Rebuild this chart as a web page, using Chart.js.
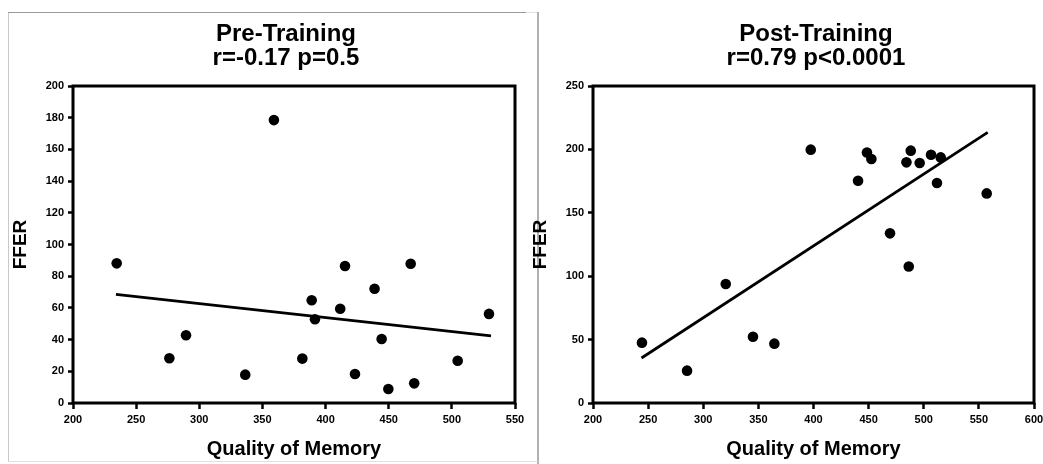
<!DOCTYPE html>
<html>
<head>
<meta charset="utf-8">
<script src="https://cdn.jsdelivr.net/npm/chart.js@4.4.1/dist/chart.umd.min.js"></script>
<style>
  html, body { margin: 0; padding: 0; background: #fff; width: 1043px; height: 464px; overflow: hidden; position: relative; }
  canvas { position: absolute; top: 0; }
  .ln { position: absolute; }
</style>
</head>
<body>
<div class="ln" style="left:8px;top:12px;width:1px;height:450px;background:#c8c8c8"></div>
<div class="ln" style="left:8px;top:12px;width:518px;height:1px;background:#9a9a9a"></div>
<div class="ln" style="left:526px;top:12px;width:12px;height:1px;background:#e0e0e0"></div>
<div class="ln" style="left:537px;top:12px;width:2px;height:452px;background:#b0b0b0"></div>
<div class="ln" style="left:8px;top:461px;width:530px;height:1px;background:#e0e0e0"></div>
<canvas id="c1" width="572" height="464" style="left:0px"></canvas>
<canvas id="c2" width="592" height="464" style="left:520px"></canvas>
<script>
// ---- data ----
const preX  = [234.6, 276.3, 289.5, 336.4, 359.1, 381.6, 389.0, 391.6, 411.6, 415.4, 423.3, 438.8, 444.4, 449.7, 467.4, 470.2, 504.6, 529.4];
const preY  = [88.1, 28.2, 42.7, 17.9, 178.5, 28.0, 64.8, 52.8, 59.5, 86.4, 18.3, 72.1, 40.4, 8.8, 87.9, 12.4, 26.7, 56.2];
const preFitX = [234, 531];
const preFitY = [68.6, 42.3];

const postX = [244.4, 285.3, 320.4, 345.1, 364.5, 397.5, 440.4, 448.5, 452.5, 469.4, 484.3, 486.4, 488.2, 496.3, 506.6, 512.0, 515.4, 557.1];
const postY = [47.6, 25.5, 93.8, 52.3, 46.8, 199.8, 175.3, 197.6, 192.4, 133.8, 189.8, 107.7, 199.0, 189.3, 195.8, 173.5, 193.7, 165.3];
const postFitX = [244, 558];
const postFitY = [35.5, 213.4];

const preTitle  = ['Pre-Training', 'r=-0.17 p=0.5'];
const postTitle = ['Post-Training', 'r=0.79 p<0.0001'];
const xTitle = 'Quality of Memory';
const yTitle = 'FFER';

const preXTicks  = {min: 200, max: 550, step: 50};
const preYTicks  = {min: 0, max: 200, step: 20};
const postXTicks = {min: 200, max: 600, step: 50};
const postYTicks = {min: 0, max: 250, step: 50};

// ---- rendering ----
const FONT = '"Liberation Sans", Arial, Helvetica, sans-serif';

const framePlugin = {
  id: 'frame',
  beforeDatasetsDraw(chart) {
    const {ctx, chartArea: a} = chart;
    ctx.save();
    ctx.strokeStyle = '#000';
    ctx.lineWidth = 3;
    ctx.strokeRect(a.left, a.top, a.right - a.left, a.bottom - a.top);
    ctx.restore();
  }
};

function pts(xs, ys) { return xs.map((x, i) => ({x: x, y: ys[i]})); }

function makeChart(id, xs, ys, fx, fy, title, xt, yt, rightWidth) {
  const tickFont = {family: FONT, size: 11, weight: 'bold'};
  const grid = {display: true, drawOnChartArea: false, drawTicks: true, tickColor: '#000', tickWidth: 2.5};
  return new Chart(document.getElementById(id), {
    type: 'scatter',
    data: {
      datasets: [
        {data: pts(xs, ys), backgroundColor: '#000', borderColor: '#000', pointRadius: 5.3, pointHoverRadius: 5.3, borderWidth: 0},
        {data: pts(fx, fy), showLine: true, pointRadius: 0, borderColor: '#000', borderWidth: 2.8, backgroundColor: '#000'}
      ]
    },
    plugins: [framePlugin],
    options: {
      responsive: false,
      animation: false,
      events: [],
      layout: {padding: 0},
      plugins: {
        legend: {display: false},
        tooltip: {enabled: false},
        title: {
          display: true, text: title, color: '#000',
          font: {family: FONT, size: 24, weight: 'bold', lineHeight: 1.0},
          padding: {top: 22, bottom: 16}
        }
      },
      scales: {
        x: {
          type: 'linear', position: 'bottom', min: xt.min, max: xt.max,
          ticks: {stepSize: xt.step, color: '#000', font: tickFont, padding: 4, autoSkip: false, maxRotation: 0},
          grid: Object.assign({tickLength: 6}, grid),
          border: {display: false},
          title: {display: true, text: xTitle, color: '#000', font: {family: FONT, size: 20, weight: 'bold'}, padding: {top: 0, bottom: 3}},
          afterFit(s) { s.height = 61; }
        },
        y: {
          type: 'linear', position: 'left', min: yt.min, max: yt.max,
          ticks: {stepSize: yt.step, color: '#000', font: tickFont, padding: 4, autoSkip: false},
          grid: Object.assign({tickLength: 5}, grid),
          border: {display: false},
          title: {display: true, text: yTitle, color: '#000', font: {family: FONT, size: 19, weight: 'bold'}, padding: {top: 9, bottom: 0}},
          afterFit(s) { s.width = 73; }
        },
        yr: {
          type: 'linear', position: 'right', display: true,
          ticks: {display: false}, grid: {display: false}, border: {display: false},
          afterFit(s) { s.width = rightWidth; }
        }
      }
    }
  });
}

makeChart('c1', preX, preY, preFitX, preFitY, preTitle, preXTicks, preYTicks, 57);
makeChart('c2', postX, postY, postFitX, postFitY, postTitle, postXTicks, postYTicks, 78);
</script>
</body>
</html>
